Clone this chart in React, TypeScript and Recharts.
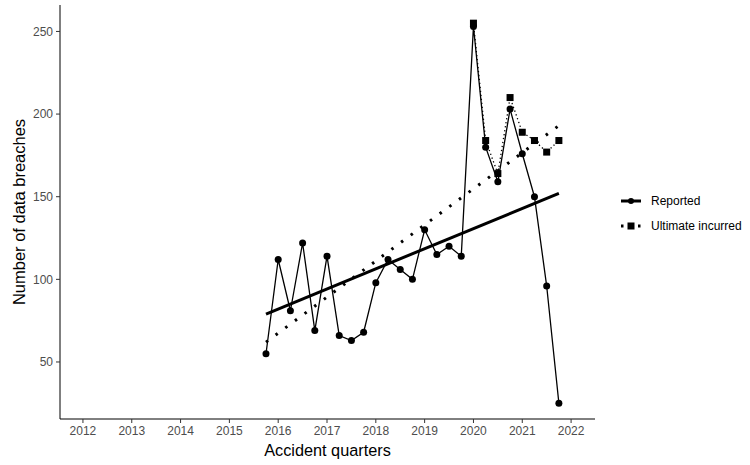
import React from "react";
import { LineChart, Line, XAxis, YAxis } from "recharts";

// accident quarters as decimal years
const quarters = [
  2015.75, 2016, 2016.25, 2016.5, 2016.75, 2017, 2017.25, 2017.5, 2017.75,
  2018, 2018.25, 2018.5, 2018.75, 2019, 2019.25, 2019.5, 2019.75, 2020,
  2020.25, 2020.5, 2020.75, 2021, 2021.25, 2021.5, 2021.75,
];
const reported = [
  55, 112, 81, 122, 69, 114, 66, 63, 68, 98, 112, 106, 100, 130, 115, 120,
  114, 253, 180, 159, 203, 176, 150, 96, 25,
];
const ultimate: (number | null)[] = [
  null, null, null, null, null, null, null, null, null, null, null, null,
  null, null, null, null, null, 255, 184, 164, 210, 189, 184, 177, 184,
];
// fitted trend lines, start and end only
const reportedTrend = [79, 152];
const ultimateTrend = [62, 193];

const xTicks = [2012, 2013, 2014, 2015, 2016, 2017, 2018, 2019, 2020, 2021, 2022];
const yTicks = [50, 100, 150, 200, 250];

const data = quarters.map((q, i) => ({
  q,
  reported: reported[i],
  ultimate: ultimate[i],
  repTrend: i === 0 ? reportedTrend[0] : i === quarters.length - 1 ? reportedTrend[1] : null,
  ultTrend: i === 0 ? ultimateTrend[0] : i === quarters.length - 1 ? ultimateTrend[1] : null,
}));

const FONT = "'Liberation Sans', Arial, sans-serif";
const tickStyle = { fill: "#4d4d4d", fontSize: 12, fontFamily: FONT };

const SquareDot = (props: any) => {
  const { cx, cy, index } = props;
  if (cy == null || cx == null) return <g key={index} />;
  return <rect key={index} x={cx - 3.5} y={cy - 3.5} width={7} height={7} fill="#000" />;
};

function LegendOverlay() {
  const row = { display: "flex", alignItems: "center", height: 25 } as const;
  return (
    <div
      style={{
        position: "absolute",
        left: 619,
        top: 188,
        fontFamily: FONT,
        fontSize: 12,
        color: "#000",
      }}
    >
      <div style={row}>
        <svg width={24} height={12}>
          <line x1={2} y1={6} x2={22} y2={6} stroke="#000" strokeWidth={3} />
          <circle cx={12} cy={6} r={3} fill="#000" />
        </svg>
        <span style={{ marginLeft: 8 }}>Reported</span>
      </div>
      <div style={row}>
        <svg width={24} height={12}>
          <line x1={2} y1={6} x2={22} y2={6} stroke="#000" strokeWidth={3} strokeDasharray="2.5 6" />
          <rect x={8.5} y={2.5} width={7} height={7} fill="#000" />
        </svg>
        <span style={{ marginLeft: 8 }}>Ultimate incurred</span>
      </div>
    </div>
  );
}

export default function App() {
  return (
    <div style={{ position: "absolute", left: 0, top: 0, width: 750, height: 465, background: "#fff" }}>
      <LineChart
        width={750}
        height={465}
        data={data}
        margin={{ top: 5, right: 155, bottom: 0, left: 0 }}
      >
        <XAxis
          dataKey="q"
          type="number"
          domain={[2011.53, 2022.49]}
          ticks={xTicks}
          allowDataOverflow
          height={46}
          tick={tickStyle}
          tickSize={4}
          tickMargin={3}
          stroke="#000"
          tickLine={{ stroke: "#333" }}
          label={{
            value: "Accident quarters",
            position: "insideBottom",
            offset: 9,
            style: { fill: "#000", fontSize: 16.3, fontFamily: FONT },
          }}
        />
        <YAxis
          type="number"
          domain={[15.5, 266]}
          ticks={yTicks}
          allowDataOverflow
          width={60}
          tick={tickStyle}
          tickSize={4}
          tickMargin={3}
          stroke="#000"
          tickLine={{ stroke: "#333" }}
          label={{
            value: "Number of data breaches",
            angle: -90,
            position: "insideLeft",
            offset: 19,
            dx: 0,
            style: { fill: "#000", fontSize: 16.5, fontFamily: FONT, textAnchor: "middle" },
          }}
        />
        <Line
          dataKey="ultTrend"
          connectNulls
          stroke="#000"
          strokeWidth={3}
          strokeDasharray="2.5 9.5"
          dot={false}
          isAnimationActive={false}
        />
        <Line
          dataKey="repTrend"
          connectNulls
          stroke="#000"
          strokeWidth={3}
          dot={false}
          isAnimationActive={false}
        />
        <Line
          dataKey="ultimate"
          stroke="#000"
          strokeWidth={1.3}
          strokeDasharray="1.3 2.7"
          dot={SquareDot}
          isAnimationActive={false}
        />
        <Line
          dataKey="reported"
          stroke="#000"
          strokeWidth={1.3}
          dot={{ r: 3.5, fill: "#000", stroke: "none" }}
          isAnimationActive={false}
        />
      </LineChart>
      <LegendOverlay />
    </div>
  );
}
